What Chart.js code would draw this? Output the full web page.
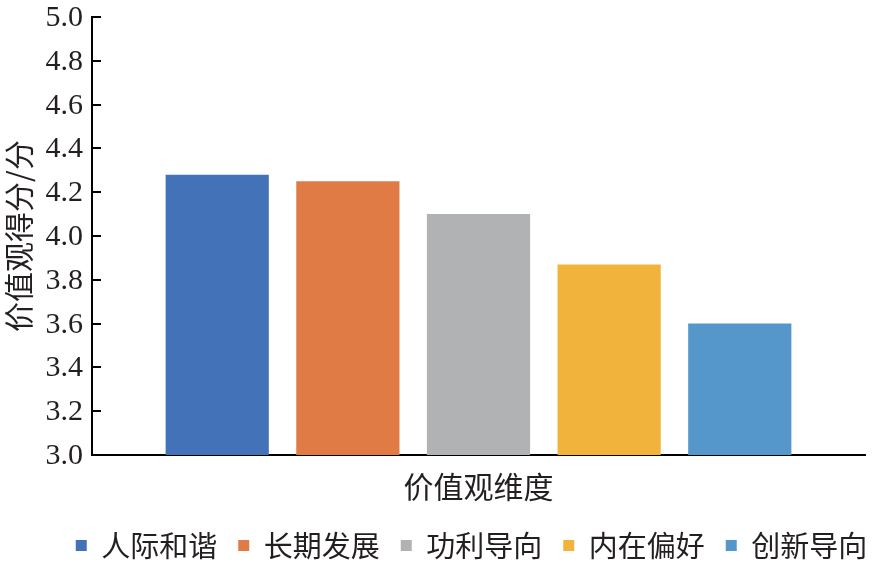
<!DOCTYPE html>
<html>
<head>
<meta charset="utf-8">
<script src="https://cdn.jsdelivr.net/npm/chart.js@4/dist/chart.umd.min.js"></script>
<style>
  html, body { margin: 0; padding: 0; background: #fff; }
  #wrap { width: 874px; height: 563px; }
</style>
</head>
<body>
<div id="wrap"><canvas id="chart" width="874" height="563"></canvas></div>
<script>
// chart data
const dimensions = ['人际和谐', '长期发展', '功利导向', '内在偏好', '创新导向'];
const scores = [4.28, 4.25, 4.10, 3.87, 3.60];
const barColors = ['#4472B8', '#E07B45', '#B1B2B4', '#F2B33D', '#5596CB'];
const yTicks = [3.0, 3.2, 3.4, 3.6, 3.8, 4.0, 4.2, 4.4, 4.6, 4.8, 5.0];

const serifFont = "'Liberation Serif', serif";
const cjkFont = "'Noto Sans CJK SC', sans-serif";
const textColor = '#231F20';

// each dimension is its own dataset so the legend lists them
const datasets = dimensions.map((name, i) => ({
    label: name,
    data: [scores[i]],
    backgroundColor: barColors[i],
    borderWidth: 0,
    categoryPercentage: 0.845,
    barPercentage: 0.79
}));

// y ticks: short marks pointing into the plot plus serif labels
// (the built-in tick labels kept coming out in a sans face here)
const yAxisTicks = {
    id: 'yAxisTicks',
    afterDraw(chart) {
        const ctx = chart.ctx;
        const y = chart.scales.y;
        ctx.save();
        ctx.strokeStyle = '#000';
        ctx.lineWidth = 2;
        ctx.fillStyle = textColor;
        ctx.font = "30px " + serifFont;
        ctx.textAlign = 'right';
        ctx.textBaseline = 'middle';
        y.ticks.forEach(t => {
            const py = Math.round(y.getPixelForValue(t.value));
            ctx.beginPath();
            ctx.moveTo(y.right, py);
            ctx.lineTo(y.right + 9, py);
            ctx.stroke();
            ctx.fillText(t.value.toFixed(1), y.right - 9, py + 1);
        });
        ctx.restore();
    }
};

// legend in the original sits a little right of centre and lower
const legendShift = {
    id: 'legendShift',
    afterLayout(chart) {
        chart.legend.left += 39;
        chart.legend.right += 39;
        chart.legend.top += 5;
        chart.legend.bottom += 5;
    }
};

new Chart(document.getElementById('chart').getContext('2d'), {
    type: 'bar',
    data: { labels: [''], datasets: datasets },
    options: {
        responsive: false,
        animation: false,
        layout: { padding: { top: 0, right: 9, left: 0, bottom: 0 } },
        plugins: {
            tooltip: { enabled: false },
            legend: {
                position: 'bottom',
                maxHeight: 58,
                labels: {
                    font: { family: cjkFont, size: 29 },
                    color: textColor,
                    boxWidth: 11,
                    boxHeight: 11,
                    padding: 21
                }
            }
        },
        scales: {
            x: {
                grid: { display: false },
                border: { display: true, color: '#000', width: 2 },
                ticks: { display: false },
                title: {
                    display: true,
                    text: '价值观维度',
                    font: { family: cjkFont, size: 30 },
                    color: textColor,
                    padding: { top: 6, bottom: 0 }
                }
            },
            y: {
                min: 3.0,
                max: 5.0,
                afterBuildTicks(scale) {
                    scale.ticks = yTicks.map(v => ({ value: v }));
                },
                afterFit(scale) {
                    scale.width = 92;
                    scale.paddingTop = 17;
                },
                grid: { display: false },
                border: { display: true, color: '#000', width: 2 },
                ticks: { display: false },
                title: {
                    display: true,
                    text: '价值观得分/分',
                    font: { family: cjkFont, size: 30 },
                    color: textColor,
                    padding: { top: 1, bottom: 4 }
                }
            }
        }
    },
    plugins: [yAxisTicks, legendShift]
});
</script>
</body>
</html>
